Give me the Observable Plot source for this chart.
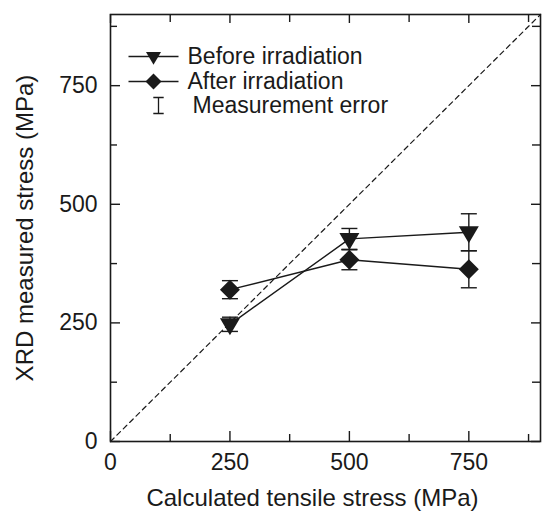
<!DOCTYPE html>
<html><head><meta charset="utf-8">
<script src="https://cdn.jsdelivr.net/npm/d3@7"></script>
<script src="https://cdn.jsdelivr.net/npm/@observablehq/plot@0.6"></script>
<style>body{margin:0;background:#fff;} #chart{position:relative;width:544px;height:519px}</style>
</head><body><div id="chart"></div>
<script>
// ---- data ----
const calculated = [250, 500, 750];
const beforeIrr = [247, 427, 441];
const beforeErr = [15, 22, 39];
const afterIrr = [320, 383, 363];
const afterErr = [19, 21, 39];
const majorTicks = [0, 250, 500, 750];
const minorTicks = [125, 375, 625, 875];
const axisDomain = [0, 900];
const legendLabels = ["Before irradiation", "After irradiation", "Measurement error"];
const xLabel = "Calculated tensile stress (MPa)";
const yLabel = "XRD measured stress (MPa)";

// ---- layout ----
const W = 544, H = 519;
const mL = 110, mR = 4, mT = 14, mB = 78;
const iw = W - mL - mR, ih = H - mT - mB;
const ink = "#1a1a1a";

const before = calculated.map((x, i) => ({x, y: beforeIrr[i], e: beforeErr[i]}));
const after = calculated.map((x, i) => ({x, y: afterIrr[i], e: afterErr[i]}));

// custom symbols (size = r^2 * PI)
const rOf = s => Math.sqrt(s / Math.PI);
const triDown = {draw(c, s) { const r = rOf(s); c.moveTo(-r, -0.6 * r); c.lineTo(r, -0.6 * r); c.lineTo(0, 1.1 * r); c.closePath(); }};
const diamond = {draw(c, s) { const r = rOf(s); c.moveTo(0, -r); c.lineTo(r, 0); c.lineTo(0, r); c.lineTo(-r, 0); c.closePath(); }};
const hbar = {draw(c, s) { const r = rOf(s); c.moveTo(-r, 0); c.lineTo(r, 0); }};
const ibeam = {draw(c, s) { const r = rOf(s); const w = 0.65 * r; c.moveTo(-w, -r); c.lineTo(w, -r); c.moveTo(0, -r); c.lineTo(0, r); c.moveTo(-w, r); c.lineTo(w, r); }};

function seriesMarks(data, symbol, r) {
  return [
    Plot.line(data, {x: "x", y: "y", stroke: ink, strokeWidth: 1.4}),
    Plot.ruleX(data, {x: "x", y1: d => d.y - d.e, y2: d => d.y + d.e, stroke: ink, strokeWidth: 1.4}),
    Plot.dot(data, {x: "x", y: d => d.y + d.e, symbol: hbar, r: 8, stroke: ink, strokeWidth: 1.4}),
    Plot.dot(data, {x: "x", y: d => d.y - d.e, symbol: hbar, r: 8, stroke: ink, strokeWidth: 1.4}),
    Plot.dot(data, {x: "x", y: "y", symbol, r, fill: ink, stroke: "none"})
  ];
}

const legendRowsDy = [42, 67, 91];
const legendText = (i, dx) => Plot.text([legendLabels[i]], {frameAnchor: "top-left", dx, dy: legendRowsDy[i], text: d => d, textAnchor: "start", lineAnchor: "middle", fontSize: 23, fill: ink});

const chart = Plot.plot({
  width: W, height: H,
  marginLeft: mL, marginRight: mR, marginTop: mT, marginBottom: mB,
  style: {fontFamily: "'Liberation Sans', Arial, sans-serif", fontSize: "23px", color: ink, background: "#fff"},
  x: {domain: axisDomain},
  y: {domain: axisDomain},
  marks: [
    // diagonal y = x
    Plot.line(axisDomain, {x: d => d, y: d => d, stroke: ink, strokeWidth: 1.2, strokeDasharray: "5,4"}),
    ...seriesMarks(before, triDown, 10),
    ...seriesMarks(after, diamond, 10),
    // inward ticks
    Plot.tickX(majorTicks, {x: d => d, insetTop: ih - 10, stroke: ink, strokeWidth: 1.4}),
    Plot.tickX(minorTicks, {x: d => d, insetTop: ih - 7, stroke: ink, strokeWidth: 1.4}),
    Plot.tickX(majorTicks, {x: d => d, insetBottom: ih - 9, stroke: ink, strokeWidth: 1.4}),
    Plot.tickX(minorTicks, {x: d => d, insetBottom: ih - 8, stroke: ink, strokeWidth: 1.4}),
    Plot.tickY(majorTicks, {y: d => d, insetRight: iw - 10, stroke: ink, strokeWidth: 1.4}),
    Plot.tickY(minorTicks, {y: d => d, insetRight: iw - 7, stroke: ink, strokeWidth: 1.4}),
    Plot.tickY(majorTicks, {y: d => d, insetLeft: iw - 9, stroke: ink, strokeWidth: 1.4}),
    Plot.tickY(minorTicks, {y: d => d, insetLeft: iw - 8, stroke: ink, strokeWidth: 1.4}),
    Plot.frame({stroke: ink, strokeWidth: 1.6}),
    Plot.axisX({ticks: majorTicks, tickSize: 0, tickPadding: 12, tickFormat: d => d, label: null, fontSize: 23}),
    Plot.axisY({ticks: majorTicks, tickSize: 0, tickPadding: 13, tickFormat: d => d, label: null, fontSize: 23}),
    // axis titles
    Plot.text([xLabel], {frameAnchor: "bottom", dx: -13, dy: 57, text: d => d, textAnchor: "middle", lineAnchor: "middle", fontSize: 24, fill: ink}),
    Plot.text([yLabel], {frameAnchor: "left", dx: -85, dy: 0, rotate: -90, text: d => d, textAnchor: "middle", lineAnchor: "middle", fontSize: 24, fill: ink}),
    // legend
    Plot.dot([0], {frameAnchor: "top-left", dx: 43, dy: legendRowsDy[0], symbol: hbar, r: 25, stroke: ink, strokeWidth: 1.4}),
    Plot.dot([0], {frameAnchor: "top-left", dx: 43, dy: legendRowsDy[0], symbol: triDown, r: 7.5, fill: ink}),
    Plot.dot([0], {frameAnchor: "top-left", dx: 43, dy: legendRowsDy[1], symbol: hbar, r: 25, stroke: ink, strokeWidth: 1.4}),
    Plot.dot([0], {frameAnchor: "top-left", dx: 43, dy: legendRowsDy[1], symbol: diamond, r: 8, fill: ink}),
    Plot.dot([0], {frameAnchor: "top-left", dx: 48, dy: legendRowsDy[2], symbol: ibeam, r: 8, stroke: ink, strokeWidth: 1.3}),
    legendText(0, 77),
    legendText(1, 77),
    legendText(2, 82)
  ]
});
document.getElementById("chart").appendChild(chart);
</script>
</body></html>
